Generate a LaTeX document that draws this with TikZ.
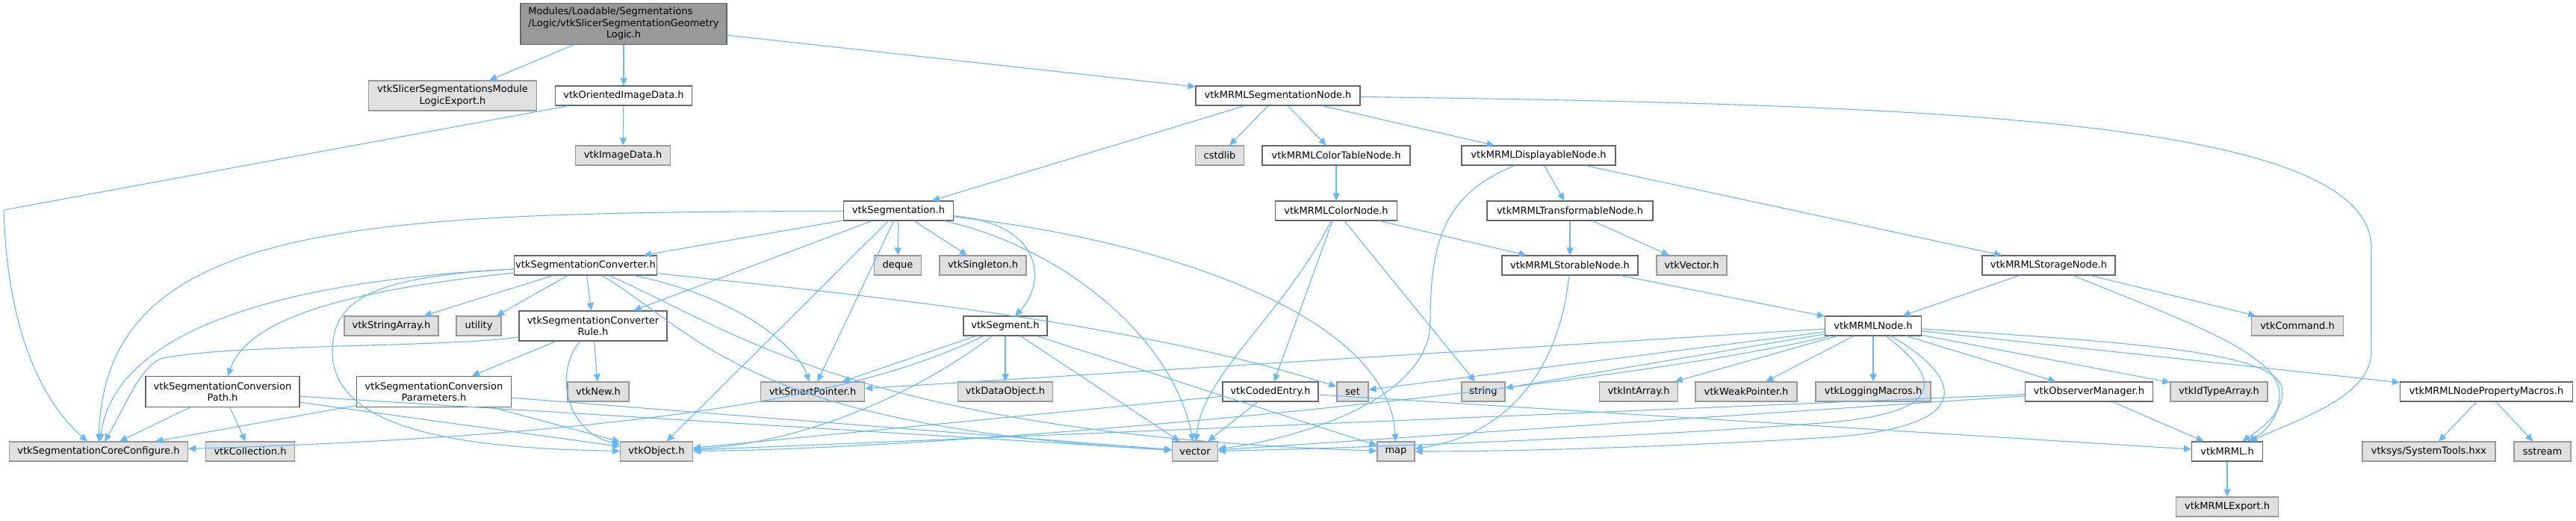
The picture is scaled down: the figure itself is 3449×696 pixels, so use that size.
\documentclass[tikz,border=0pt]{standalone}
\usepackage{xcolor}
\usepackage{fontspec}
\setmainfont{DejaVu Sans}
\usepackage{tikz}
\usetikzlibrary{arrows.meta,calc}

\definecolor{edgeblue}{HTML}{63B8FF}
\definecolor{boxgrey}{HTML}{E0E0E0}
\definecolor{rimgrey}{HTML}{999999}
\definecolor{rimdark}{HTML}{666666}

\begin{document}
\begin{tikzpicture}[x=1pt, y=-1pt, font=\fontsize{13}{15.5}\selectfont,
  hdr/.style={draw=rimdark, line width=1.2pt, rectangle, inner sep=2pt, minimum height=26pt, fill=white},
  sys/.style={hdr, draw=rimgrey, fill=boxgrey},
  dep/.style={draw=edgeblue, line width=1.1pt, -{Triangle[length=10pt,width=9pt]}}]
\path[use as bounding box] (0,0) rectangle (3449,696);

% row 0 and 1
\node[hdr, fill=rimgrey, minimum width=276pt, minimum height=55pt] (root) at (835,32) {\begin{tabular}{@{}l@{}}Modules/Loadable/Segmentations\\/Logic/vtkSlicerSegmentationGeometry\\\multicolumn{1}{@{}c@{}}{Logic.h}\end{tabular}};
\node[sys, minimum width=225pt, minimum height=40pt, align=center] (logicexp) at (606,128) {vtkSlicerSegmentationsModule\\LogicExport.h};
\node[hdr, minimum width=183pt] (orientimg) at (835,128) {vtkOrientedImageData.h};
\node[hdr, minimum width=220pt] (segnode) at (1711,128) {vtkMRMLSegmentationNode.h};

% row 2
\node[sys, minimum width=127pt] (imgdata) at (834,208) {vtkImageData.h};
\node[sys, minimum width=65pt] (cstdlib) at (1633,208) {cstdlib};
\node[hdr, minimum width=198pt] (colortable) at (1789,208) {vtkMRMLColorTableNode.h};
\node[hdr, minimum width=206pt] (displayable) at (2060,208) {vtkMRMLDisplayableNode.h};

% row 3
\node[hdr, minimum width=147pt] (segmentation) at (1203,282) {vtkSegmentation.h};
\node[hdr, minimum width=163pt] (colornode) at (1789,282) {vtkMRMLColorNode.h};
\node[hdr, minimum width=222pt] (transformable) at (2102,282) {vtkMRMLTransformableNode.h};

% row 4
\node[hdr, minimum width=189pt] (converter) at (784,355) {vtkSegmentationConverter.h};
\node[sys, minimum width=63pt] (deque) at (1202,355) {deque};
\node[sys, minimum width=116pt] (singleton) at (1316,355) {vtkSingleton.h};
\node[hdr, minimum width=182pt] (storable) at (2102,355) {vtkMRMLStorableNode.h};
\node[sys, minimum width=94pt] (vtkvec) at (2265,355) {vtkVector.h};
\node[hdr, minimum width=178pt] (storage) at (2743,355) {vtkMRMLStorageNode.h};

% row 5
\node[sys, minimum width=126pt] (stringarr) at (524,436) {vtkStringArray.h};
\node[sys, minimum width=60pt] (utility) at (641,436) {utility};
\node[hdr, minimum width=198pt, minimum height=40pt, align=center] (convrule) at (794,436) {vtkSegmentationConverter\\Rule.h};
\node[hdr, minimum width=112pt] (segment) at (1346,436) {vtkSegment.h};
\node[hdr, minimum width=129pt] (mrmlnode) at (2508,436) {vtkMRMLNode.h};
\node[sys, minimum width=123pt] (command) at (3076,436) {vtkCommand.h};

% row 6
\node[hdr, minimum width=206pt, minimum height=41pt, align=center] (convpath) at (298,524) {vtkSegmentationConversion\\Path.h};
\node[hdr, minimum width=207pt, minimum height=41pt, align=center] (convparams) at (581,524) {vtkSegmentationConversion\\Parameters.h};
\node[sys, minimum width=82pt] (vtknew) at (801,524) {vtkNew.h};
\node[sys, minimum width=139pt] (smartptr) at (1088,524) {vtkSmartPointer.h};
\node[sys, minimum width=127pt] (dataobj) at (1346,524) {vtkDataObject.h};
\node[hdr, minimum width=128pt] (codedentry) at (1701,524) {vtkCodedEntry.h};
\node[sys, minimum width=42pt] (set) at (1811,524) {set};
\node[sys, minimum width=58pt] (string) at (1986,524) {string};
\node[sys, minimum width=105pt] (intarr) at (2194,524) {vtkIntArray.h};
\node[sys, minimum width=136pt] (weakptr) at (2338,524) {vtkWeakPointer.h};
\node[sys, minimum width=154pt] (logmacros) at (2508,524) {vtkLoggingMacros.h};
\node[hdr, minimum width=171pt] (obsmgr) at (2797,524) {vtkObserverManager.h};
\node[sys, minimum width=130pt] (idtypearr) at (2971,524) {vtkIdTypeArray.h};
\node[hdr, minimum width=231pt] (propmacros) at (3329,524) {vtkMRMLNodePropertyMacros.h};

% row 7 and 8
\node[sys, minimum width=239pt] (coreconf) at (132,604) {vtkSegmentationCoreConfigure.h};
\node[sys, minimum width=119pt] (collection) at (335,604) {vtkCollection.h};
\node[sys, minimum width=97pt] (vtkobj) at (879,604) {vtkObject.h};
\node[sys, minimum width=61pt] (vector) at (1600,604) {vector};
\node[sys, minimum width=50pt] (map) at (1869,604) {map};
\node[hdr, minimum width=95pt] (vtkmrml) at (2982,604) {vtkMRML.h};
\node[sys, minimum width=178pt] (systools) at (3252,604) {vtksys/SystemTools.hxx};
\node[sys, minimum width=76pt] (sstream) at (3404,604) {sstream};
\node[sys, minimum width=137pt] (mrmlexport) at (2982,678) {vtkMRMLExport.h};

% includes of the logic header
\draw[dep] (root) -- (logicexp);
\draw[dep] (root) -- (orientimg);
\draw[dep] (root) -- (segnode);
\draw[dep] (orientimg) -- (imgdata);
\draw[dep] (orientimg) -- (5,281) .. controls (10,450) and (60,540) .. (coreconf);

% segmentation node branch
\draw[dep] (segnode) -- (segmentation);
\draw[dep] (segnode) -- (cstdlib);
\draw[dep] (segnode) -- (colortable);
\draw[dep] (segnode) -- (displayable);
\draw[dep] (segnode) .. controls (2600,140) and (3170,160) .. (3175,330) -- (3175,470) .. controls (3175,530) and (3080,560) .. (vtkmrml);
\draw[dep] (colortable) -- (colornode);
\draw[dep] (colornode) -- (storable);
\draw[dep] (colornode) -- (codedentry);
\draw[dep] (colornode) .. controls (1720,420) and (1610,500) .. (vector);
\draw[dep] (colornode) -- (string);
\draw[dep] (displayable) -- (transformable);
\draw[dep] (displayable) -- (storage);
\draw[dep] (displayable) .. controls (1935,260) and (1915,320) .. (1915,430) .. controls (1915,540) and (1720,590) .. (vector);
\draw[dep] (transformable) -- (storable);
\draw[dep] (transformable) -- (vtkvec);
\draw[dep] (storable) -- (mrmlnode);
\draw[dep] (storable) .. controls (2090,480) and (2030,580) .. (map);
\draw[dep] (storage) -- (mrmlnode);
\draw[dep] (storage) -- (command);
\draw[dep] (storage) .. controls (2900,420) and (3050,470) .. (3052,525) .. controls (3053,560) and (3030,580) .. (vtkmrml);

% vtkMRMLNode.h
\draw[dep] (mrmlnode) -- (smartptr);
\draw[dep] (mrmlnode) -- (set);
\draw[dep] (mrmlnode) -- (string);
\draw[dep] (mrmlnode) -- (intarr);
\draw[dep] (mrmlnode) -- (weakptr);
\draw[dep] (mrmlnode) -- (logmacros);
\draw[dep] (mrmlnode) -- (obsmgr);
\draw[dep] (mrmlnode) -- (idtypearr);
\draw[dep] (mrmlnode) -- (propmacros);
\draw[dep] (mrmlnode) .. controls (2900,460) and (3058,475) .. (3056,525) .. controls (3055,555) and (3025,575) .. (vtkmrml);
\draw[dep] (mrmlnode) .. controls (2150,520) and (1300,600) .. (vtkobj);
\draw[dep] (mrmlnode) .. controls (2590,500) and (2620,550) .. (2450,565) .. controls (2200,585) and (1800,600) .. (vector);
\draw[dep] (mrmlnode) .. controls (2620,500) and (2660,570) .. (2450,585) .. controls (2200,600) and (2000,604) .. (map);
\draw[dep] (obsmgr) -- (vtkobj);
\draw[dep] (obsmgr) -- (vector);
\draw[dep] (obsmgr) -- (vtkmrml);
\draw[dep] (codedentry) -- (vtkobj);
\draw[dep] (codedentry) -- (vector);
\draw[dep] (codedentry) -- (vtkmrml);
\draw[dep] (propmacros) -- (systools);
\draw[dep] (propmacros) -- (sstream);
\draw[dep] (vtkmrml) -- (mrmlexport);

% segmentation core
\draw[dep] (segmentation) -- (converter);
\draw[dep] (segmentation) -- (convrule);
\draw[dep] (segmentation) -- (deque);
\draw[dep] (segmentation) -- (singleton);
\draw[dep] (segmentation) .. controls (1400,300) and (1400,380) .. (segment);
\draw[dep] (segmentation) .. controls (500,285) and (140,290) .. (coreconf);
\draw[dep] (segmentation) -- (vtkobj);
\draw[dep] (segmentation) -- (smartptr);
\draw[dep] (segmentation) .. controls (1420,330) and (1570,450) .. (vector);
\draw[dep] (segmentation) .. controls (1550,320) and (1860,420) .. (map);

\draw[dep] (converter) -- (stringarr);
\draw[dep] (converter) -- (utility);
\draw[dep] (converter) -- (convrule);
\draw[dep] (converter) .. controls (450,390) and (330,430) .. (convpath);
\draw[dep] (converter) .. controls (300,380) and (150,470) .. (coreconf);
\draw[dep] (converter) .. controls (500,370) and (445,400) .. (445,470) .. controls (445,570) and (600,600) .. (vtkobj);
\draw[dep] (converter) .. controls (1000,400) and (1070,470) .. (smartptr);
\draw[dep] (converter) .. controls (940,450) and (1000,570) .. (vector);
\draw[dep] (converter) .. controls (980,440) and (1150,580) .. (map);
\draw[dep] (converter) .. controls (1100,390) and (1500,425) .. (set);

\draw[dep] (convrule) -- (convparams);
\draw[dep] (convrule) -- (vtknew);
\draw[dep] (convrule) .. controls (600,465) and (300,460) .. (215,480) .. controls (185,495) and (170,540) .. (coreconf);
\draw[dep] (convrule) .. controls (740,500) and (760,580) .. (vtkobj);

\draw[dep] (convpath) -- (coreconf);
\draw[dep] (convpath) -- (collection);
\draw[dep] (convpath) -- (vtkobj);
\draw[dep] (convpath) -- (vector);
\draw[dep] (convparams) -- (coreconf);
\draw[dep] (convparams) -- (vtkobj);
\draw[dep] (convparams) -- (vector);

\draw[dep] (segment) -- (dataobj);
\draw[dep] (segment) -- (smartptr);
\draw[dep] (segment) .. controls (1250,510) and (1100,590) .. (vtkobj);
\draw[dep] (segment) .. controls (1210,500) and (1000,578) .. (coreconf);
\draw[dep] (segment) -- (vector);
\draw[dep] (segment) -- (map);
\end{tikzpicture}
\end{document}
